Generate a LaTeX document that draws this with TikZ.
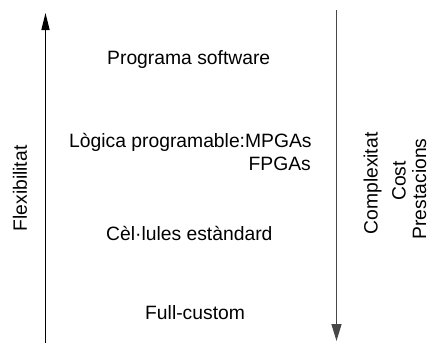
\documentclass[tikz,border=0pt]{standalone}
\usepackage{fontspec}
\setmainfont{Liberation Sans}
\usetikzlibrary{arrows.meta}
\begin{document}
\begin{tikzpicture}[x=1pt,y=-1pt,
  lbl/.style={inner sep=0pt,font=\fontsize{19.3}{23}\selectfont},
  vlbl/.style={lbl,rotate=90,anchor=base},
  axis/.style={line width=1.3pt}]
\useasboundingbox (0,0) rectangle (429,343);
\fill[white] (0,0) rectangle (429,343);
% left arrow
\coordinate (lb) at (45.5,343);
\coordinate (lt) at (45.5,13);
\draw[axis,black,-{Triangle[length=17pt,width=8pt]}] (lb) -- (lt);
% right arrow
\coordinate (rt) at (336.5,10);
\coordinate (rb) at (336.5,341);
\draw[axis,black!72,-{Triangle[length=17pt,width=10pt]}] (rt) -- (rb);
% texts
\node[lbl,anchor=base west] (sw) at (107,64) {Programa software};
\node[lbl,anchor=base west] (lp) at (69,147) {Lògica programable:MPGAs};
\node[lbl,anchor=base east] (fp) at (311,170) {FPGAs};
\node[lbl,anchor=base west] (ce) at (106,240) {Cèl·lules estàndard};
\node[lbl,anchor=base west] (fc) at (145,319) {Full-custom};
\node[vlbl] (fl) at (27,188.5) {Flexibilitat};
\node[vlbl] (co) at (377.5,183.5) {Complexitat};
\node[vlbl] (cs) at (405.5,181) {Cost};
\node[vlbl] (pr) at (426,189) {Prestacions};
\end{tikzpicture}
\end{document}
